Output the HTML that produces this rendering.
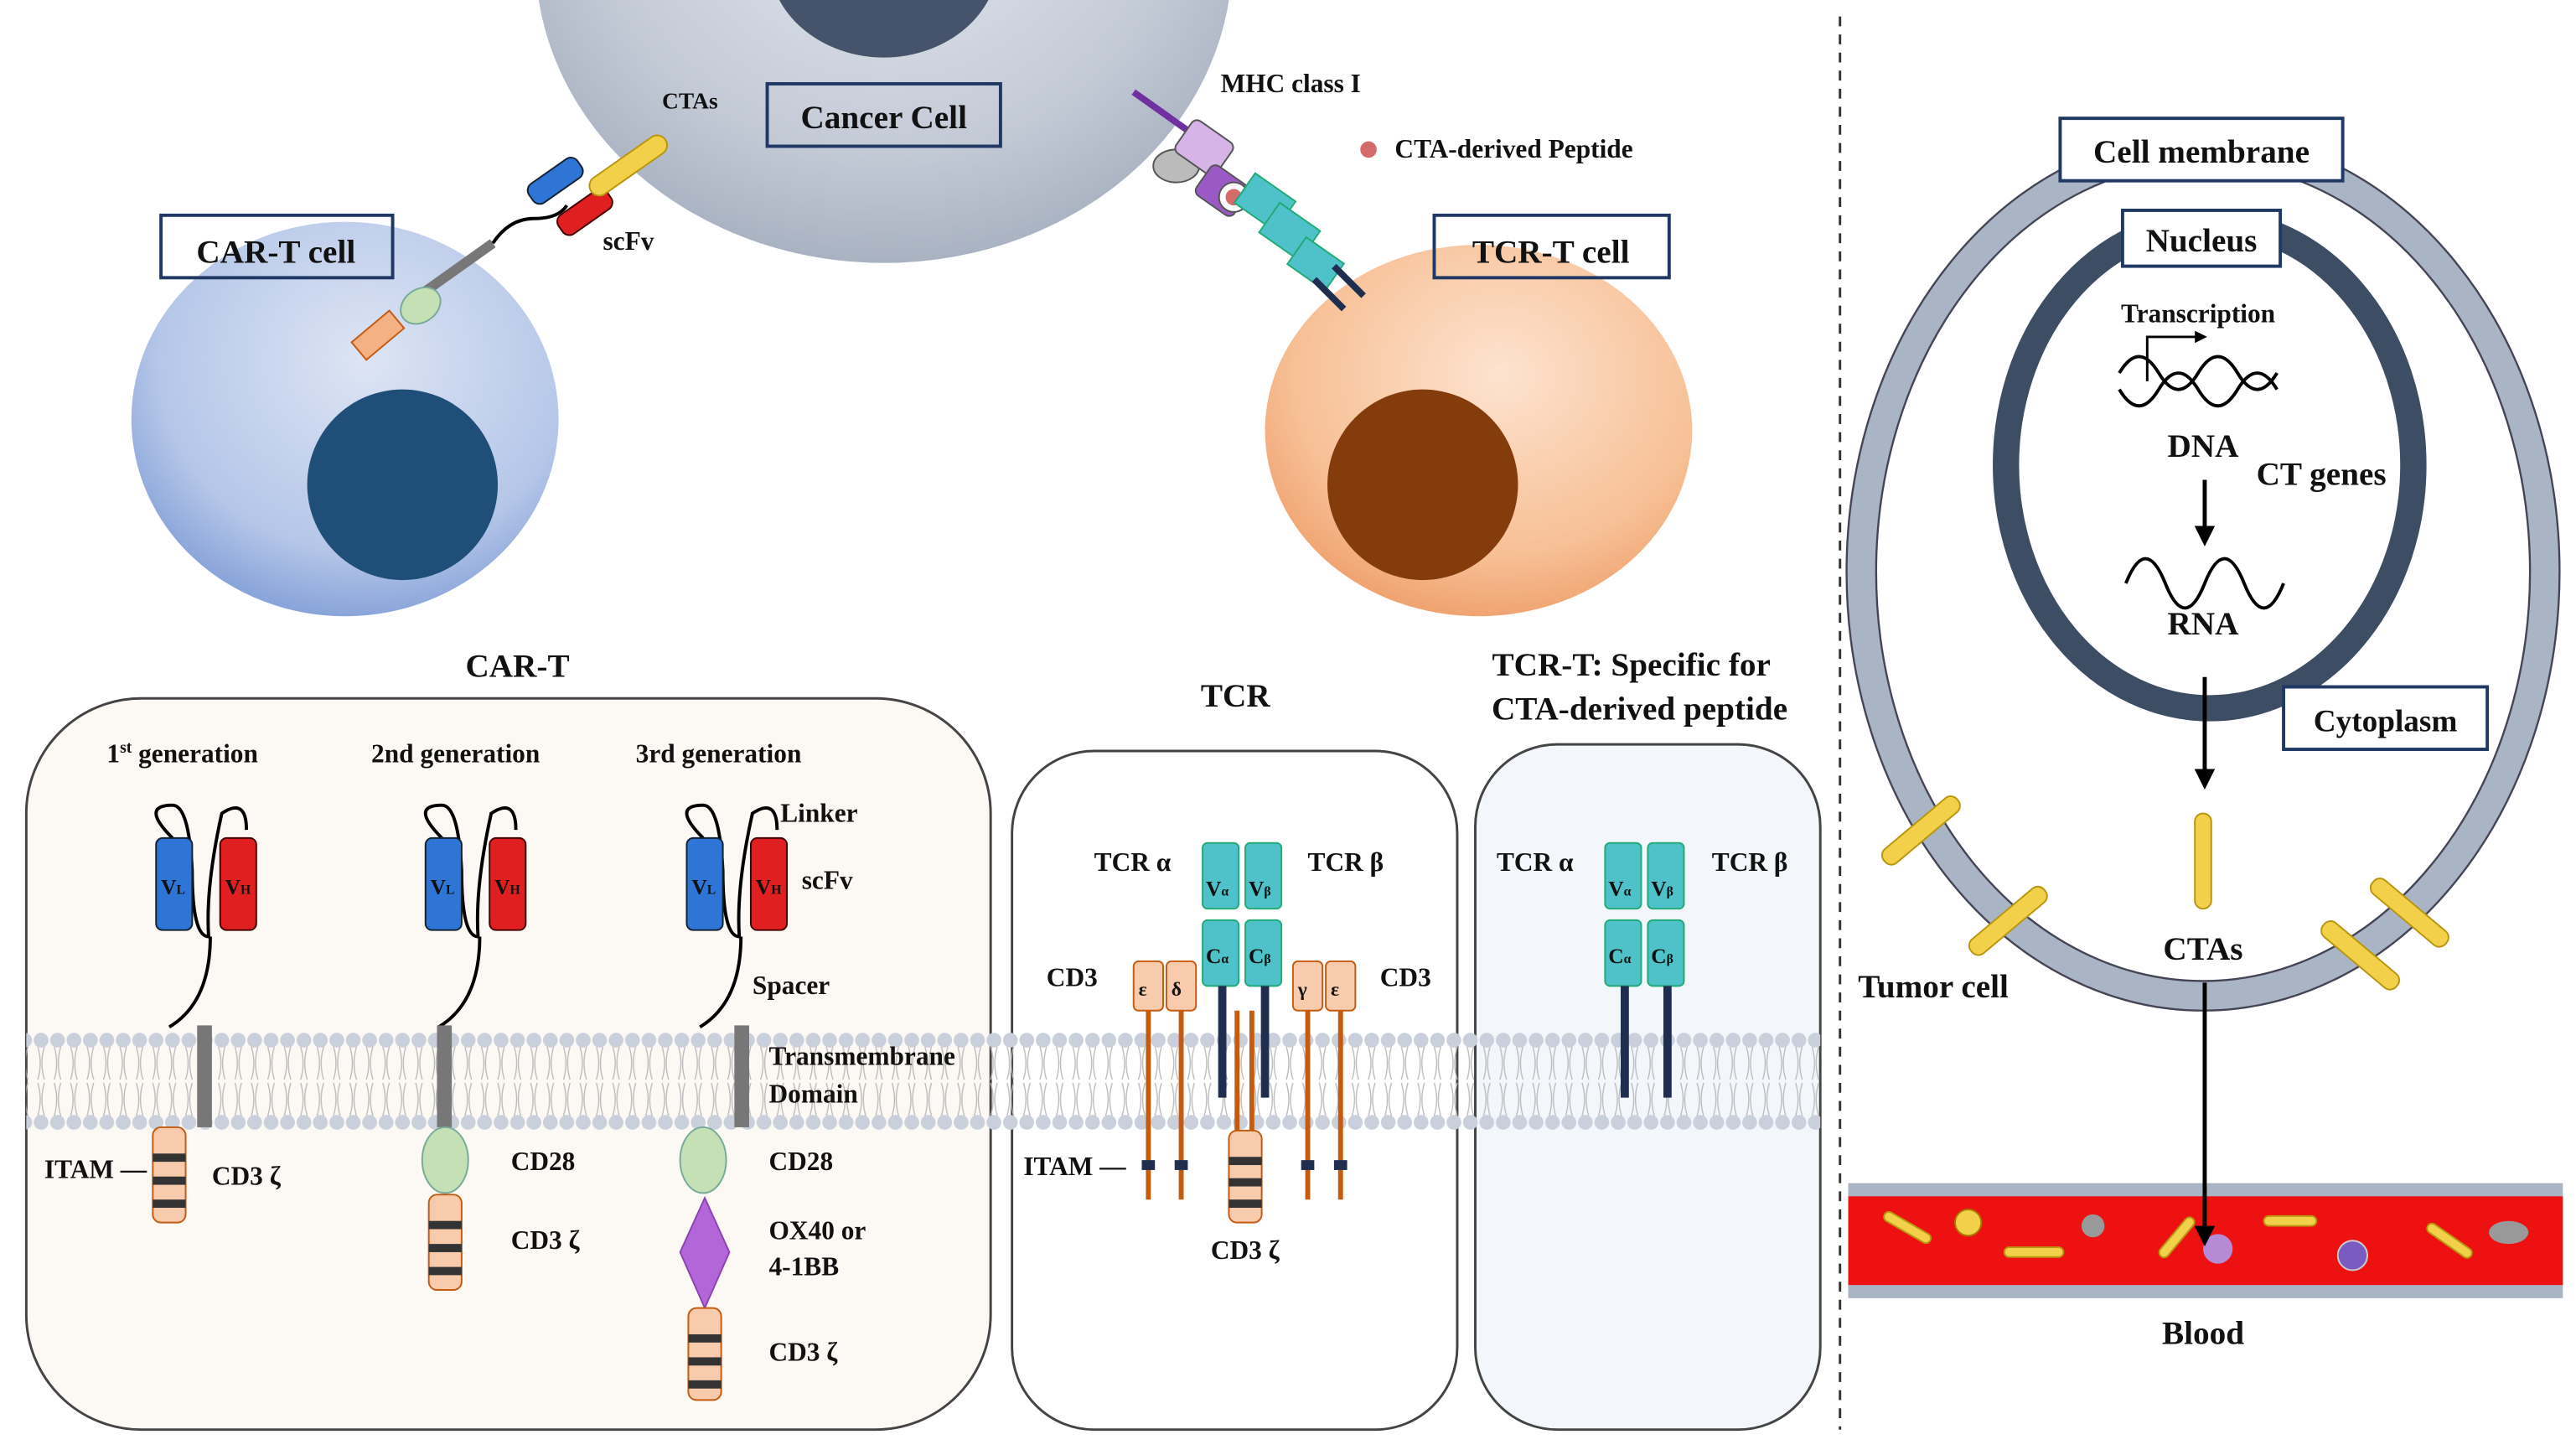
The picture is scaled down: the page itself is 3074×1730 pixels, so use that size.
<!DOCTYPE html>
<html><head><meta charset="utf-8"><style>
html,body{margin:0;padding:0;background:#fff;}
svg{display:block;}
text{font-family:"Liberation Serif",serif;font-weight:bold;fill:#111;}
</style></head><body>
<svg width="3074" height="1730" viewBox="0 0 1568 882.4" preserveAspectRatio="none" xmlns="http://www.w3.org/2000/svg">
<defs>
<radialGradient id="gc" cx="0.5" cy="0.4" r="0.6"><stop offset="0" stop-color="#e4e8ef"/><stop offset="0.7" stop-color="#c3cad6"/><stop offset="1" stop-color="#a9b2c1"/></radialGradient>
<radialGradient id="bc" cx="0.55" cy="0.35" r="0.65"><stop offset="0" stop-color="#dde5f4"/><stop offset="0.75" stop-color="#b5c6e8"/><stop offset="1" stop-color="#8aa5da"/></radialGradient>
<radialGradient id="oc" cx="0.55" cy="0.35" r="0.65"><stop offset="0" stop-color="#fde3cf"/><stop offset="0.75" stop-color="#f7bf95"/><stop offset="1" stop-color="#f0a472"/></radialGradient>
<pattern id="lip" x="0" y="628" width="10" height="62" patternUnits="userSpaceOnUse">
<circle cx="5" cy="5" r="4.5" fill="#c9d0dc"/><circle cx="5" cy="55" r="4.5" fill="#c9d0dc"/>
<path d="M3 9 q3 10 0 20 M7 9 q-3 10 0 20 M3 51 q3 -10 0 -20 M7 51 q-3 -10 0 -20" stroke="#bbb" stroke-width="0.7" fill="none"/>
</pattern>
<marker id="ar" viewBox="0 0 10 10" refX="8" refY="5" markerWidth="5" markerHeight="5" orient="auto"><path d="M0 0L10 5L0 10z" fill="#000"/></marker>
</defs>

<ellipse cx="538" cy="-25" rx="212" ry="185" fill="url(#gc)"/>
<ellipse cx="538" cy="-25" rx="70" ry="60" fill="#45546b"/>
<ellipse cx="210" cy="255" rx="130" ry="120" fill="url(#bc)"/>
<ellipse cx="245" cy="295" rx="58" ry="58" fill="#1f4e79"/>
<ellipse cx="900" cy="262" rx="130" ry="113" fill="url(#oc)"/>
<ellipse cx="866" cy="295" rx="58" ry="58" fill="#843c0c"/>

<rect x="98" y="131" width="141" height="38" fill="none" stroke="#1f3864" stroke-width="2"/>
<text x="168" y="160" font-size="20" text-anchor="middle">CAR-T cell</text>
<rect x="467" y="51" width="142" height="38" fill="none" stroke="#1f3864" stroke-width="2"/>
<text x="538" y="78" font-size="20" text-anchor="middle">Cancer Cell</text>
<rect x="873" y="131" width="143" height="38" fill="none" stroke="#1f3864" stroke-width="2"/>
<text x="944" y="160" font-size="20" text-anchor="middle">TCR-T cell</text>

<line x1="248" y1="185" x2="300" y2="148" stroke="#777" stroke-width="6"/>
<ellipse cx="256" cy="186" rx="13" ry="10" fill="#c5e0b4" stroke="#7a9" transform="rotate(-35 256 186)"/>
<rect x="215" y="197" width="30" height="14" fill="#f4b183" stroke="#c55a11" transform="rotate(-40 230 204)"/>
<path d="M300 148 q10 -15 25 -15 q15 0 20 -8" stroke="#000" fill="none" stroke-width="2"/>
<rect x="320" y="103" width="36" height="14" rx="5" fill="#2e75d6" stroke="#123" transform="rotate(-35 338 110)"/>
<rect x="338" y="122" width="36" height="14" rx="5" fill="#e02020" stroke="#400" transform="rotate(-35 356 129)"/>
<rect x="355" y="95" width="55" height="12" rx="6" fill="#f2d04a" stroke="#b8960f" transform="rotate(-35 382 101)"/>
<text x="403" y="66" font-size="14">CTAs</text>
<text x="367" y="152" font-size="16">scFv</text>

<line x1="690" y1="56" x2="728" y2="83" stroke="#7030a0" stroke-width="4"/>
<ellipse cx="716" cy="101" rx="14" ry="10" fill="#bbb" stroke="#555"/>
<rect x="718" y="78" width="30" height="24" rx="4" fill="#d6b4e8" stroke="#555" transform="rotate(35 733 90)"/>
<rect x="730" y="105" width="28" height="22" rx="4" fill="#9b59c5" stroke="#555" transform="rotate(35 744 116)"/>
<circle cx="751" cy="120" r="9" fill="#fff" stroke="#555"/><circle cx="751" cy="120" r="5" fill="#d46a6a"/>
<rect x="755" y="112" width="30" height="22" fill="#4fc1c8" stroke="#2a7" transform="rotate(35 770 123)"/>
<rect x="770" y="130" width="30" height="22" fill="#4fc1c8" stroke="#2a7" transform="rotate(35 785 141)"/>
<rect x="787" y="150" width="28" height="20" fill="#4fc1c8" stroke="#2a7" transform="rotate(35 800 160)"/>
<line x1="800" y1="170" x2="818" y2="188" stroke="#1f2d4f" stroke-width="4"/>
<line x1="812" y1="162" x2="830" y2="180" stroke="#1f2d4f" stroke-width="4"/>
<text x="743" y="56" font-size="16">MHC class I</text>
<circle cx="833" cy="91" r="5" fill="#d46a6a"/>
<text x="849" y="96" font-size="16">CTA-derived  Peptide</text>

<text x="315" y="412" font-size="20" text-anchor="middle">CAR-T</text>
<text x="752" y="430" font-size="20" text-anchor="middle">TCR</text>
<text x="993" y="411" font-size="20" text-anchor="middle">TCR-T: Specific for</text>
<text x="998" y="438" font-size="20" text-anchor="middle">CTA-derived peptide</text>

<rect x="16" y="425" width="587" height="445" rx="70" fill="#fcf8f4" stroke="#444" stroke-width="1.5"/>
<rect x="616" y="457" width="271" height="413" rx="50" fill="#fff" stroke="#444" stroke-width="1.5"/>
<rect x="898" y="453" width="210" height="417" rx="50" fill="#f3f7fb" stroke="#444" stroke-width="1.5"/>
<rect x="16" y="628" width="1092" height="62" fill="url(#lip)"/>

<text x="65" y="464" font-size="16">1<tspan font-size="10" dy="-6">st</tspan><tspan dy="6"> generation</tspan></text>
<text x="226" y="464" font-size="16">2nd  generation</text>
<text x="387" y="464" font-size="16">3rd  generation</text>

<g id="car">
<path d="M105 510 q-20 -20 0 -20 q10 0 12 40 q0 40 10 40 q-2 -30 8 -75 q15 -10 15 10 M128 570 q0 40 -25 55" stroke="#000" stroke-width="2" fill="none"/>
<rect x="95" y="510" width="22" height="56" rx="4" fill="#2e75d6" stroke="#123"/>
<rect x="134" y="510" width="22" height="56" rx="4" fill="#e02020" stroke="#400"/>
<text x="98" y="544" font-size="13">V<tspan font-size="8">L</tspan></text>
<text x="137" y="544" font-size="13">V<tspan font-size="8">H</tspan></text>
</g>
<use href="#car" x="164"/>
<use href="#car" x="323"/>
<rect x="120" y="624" width="9" height="62" fill="#777"/>
<rect x="266" y="624" width="9" height="62" fill="#777"/>
<rect x="447" y="624" width="9" height="62" fill="#777"/>
<rect x="93" y="686" width="20" height="58" rx="5" fill="#f8cbad" stroke="#c55a11"/>
<rect x="93" y="702" width="20" height="5" fill="#333"/><rect x="93" y="716" width="20" height="5" fill="#333"/><rect x="93" y="730" width="20" height="5" fill="#333"/>
<text x="27" y="717" font-size="16">ITAM —</text>
<text x="129" y="721" font-size="16">CD3 ζ</text>
<ellipse cx="271" cy="706" rx="14" ry="20" fill="#c5e0b4" stroke="#7a9"/>
<rect x="261" y="727" width="20" height="58" rx="5" fill="#f8cbad" stroke="#c55a11"/>
<rect x="261" y="743" width="20" height="5" fill="#333"/><rect x="261" y="757" width="20" height="5" fill="#333"/><rect x="261" y="771" width="20" height="5" fill="#333"/>
<text x="311" y="712" font-size="16">CD28</text>
<text x="311" y="760" font-size="16">CD3 ζ</text>
<ellipse cx="428" cy="706" rx="14" ry="20" fill="#c5e0b4" stroke="#7a9"/>
<path d="M429 729 L444 762 L429 796 L414 762z" fill="#b266d8" stroke="#8a44b0"/>
<rect x="419" y="796" width="20" height="56" rx="5" fill="#f8cbad" stroke="#c55a11"/>
<rect x="419" y="812" width="20" height="5" fill="#333"/><rect x="419" y="826" width="20" height="5" fill="#333"/><rect x="419" y="840" width="20" height="5" fill="#333"/>
<text x="475" y="500" font-size="16">Linker</text>
<text x="488" y="541" font-size="16">scFv</text>
<text x="458" y="605" font-size="16">Spacer</text>
<text x="468" y="648" font-size="16">Transmembrane</text>
<text x="468" y="671" font-size="16">Domain</text>
<text x="468" y="712" font-size="16">CD28</text>
<text x="468" y="754" font-size="16">OX40 or</text>
<text x="468" y="776" font-size="16">4-1BB</text>
<text x="468" y="828" font-size="16">CD3 ζ</text>

<g id="tcr">
<rect x="732" y="513" width="22" height="40" rx="3" fill="#4fc1c8" stroke="#2a7"/>
<rect x="758" y="513" width="22" height="40" rx="3" fill="#4fc1c8" stroke="#2a7"/>
<rect x="732" y="560" width="22" height="40" rx="3" fill="#4fc1c8" stroke="#2a7"/>
<rect x="758" y="560" width="22" height="40" rx="3" fill="#4fc1c8" stroke="#2a7"/>
<text x="734" y="545" font-size="13">V<tspan font-size="8">α</tspan></text>
<text x="760" y="545" font-size="13">V<tspan font-size="8">β</tspan></text>
<text x="734" y="586" font-size="13">C<tspan font-size="8">α</tspan></text>
<text x="760" y="586" font-size="13">C<tspan font-size="8">β</tspan></text>
<line x1="744" y1="600" x2="744" y2="668" stroke="#1f2d4f" stroke-width="5"/>
<line x1="770" y1="600" x2="770" y2="668" stroke="#1f2d4f" stroke-width="5"/>
</g>
<use href="#tcr" x="245"/>
<text x="666" y="530" font-size="16">TCR α</text><text x="796" y="530" font-size="16">TCR β</text>
<text x="911" y="530" font-size="16">TCR α</text><text x="1042" y="530" font-size="16">TCR β</text>
<rect x="690" y="585" width="18" height="30" rx="3" fill="#f8cbad" stroke="#c55a11"/>
<rect x="710" y="585" width="18" height="30" rx="3" fill="#f8cbad" stroke="#c55a11"/>
<rect x="787" y="585" width="18" height="30" rx="3" fill="#f8cbad" stroke="#c55a11"/>
<rect x="807" y="585" width="18" height="30" rx="3" fill="#f8cbad" stroke="#c55a11"/>
<text x="693" y="606" font-size="12">ε</text><text x="713" y="606" font-size="12">δ</text><text x="790" y="606" font-size="12">γ</text><text x="810" y="606" font-size="12">ε</text>
<g stroke="#c55a11" stroke-width="3">
<line x1="699" y1="615" x2="699" y2="730"/><line x1="719" y1="615" x2="719" y2="730"/>
<line x1="796" y1="615" x2="796" y2="730"/><line x1="816" y1="615" x2="816" y2="730"/>
<line x1="753" y1="615" x2="753" y2="690"/><line x1="762" y1="615" x2="762" y2="690"/>
</g>
<g fill="#1f2d4f"><rect x="695" y="706" width="8" height="6"/><rect x="715" y="706" width="8" height="6"/><rect x="792" y="706" width="8" height="6"/><rect x="812" y="706" width="8" height="6"/></g>
<rect x="748" y="688" width="20" height="56" rx="5" fill="#f8cbad" stroke="#c55a11"/>
<rect x="748" y="704" width="20" height="5" fill="#333"/><rect x="748" y="717" width="20" height="5" fill="#333"/><rect x="748" y="730" width="20" height="5" fill="#333"/>
<text x="637" y="600" font-size="16">CD3</text><text x="840" y="600" font-size="16">CD3</text>
<text x="623" y="715" font-size="16">ITAM —</text>
<text x="737" y="766" font-size="16">CD3 ζ</text>

<line x1="1120" y1="10" x2="1120" y2="870" stroke="#333" stroke-width="1.5" stroke-dasharray="6,5"/>

<ellipse cx="1341" cy="348" rx="208" ry="258" fill="none" stroke="#a9b4c4" stroke-width="18"/>
<ellipse cx="1341" cy="348" rx="217" ry="267" fill="none" stroke="#445" stroke-width="1.2"/>
<ellipse cx="1341" cy="348" rx="199" ry="249" fill="none" stroke="#445" stroke-width="1.2"/>
<ellipse cx="1345" cy="283" rx="124" ry="148" fill="none" stroke="#3d4d63" stroke-width="16"/>
<rect x="1254" y="72" width="172" height="38" fill="#fff" stroke="#1f3864" stroke-width="2"/>
<text x="1340" y="99" font-size="20" text-anchor="middle">Cell membrane</text>
<rect x="1292" y="128" width="96" height="34" fill="#fff" stroke="#1f3864" stroke-width="2"/>
<text x="1340" y="153" font-size="20" text-anchor="middle">Nucleus</text>
<rect x="1390" y="418" width="124" height="38" fill="#fff" stroke="#1f3864" stroke-width="2"/>
<text x="1452" y="445" font-size="19" text-anchor="middle">Cytoplasm</text>
<text x="1338" y="196" font-size="16" text-anchor="middle">Transcription</text>
<path d="M1307 232 V205 H1342" stroke="#000" stroke-width="1.5" fill="none" marker-end="url(#ar)"/>
<path d="M1290 230 q12 -20 24 0 t24 0 t24 0 t24 0 M1290 240 q12 20 24 0 t24 0 t24 0 t24 0" stroke="#000" stroke-width="2" fill="none" transform="translate(0,-3)"/>
<text x="1341" y="278" font-size="20" text-anchor="middle">DNA</text>
<text x="1413" y="295" font-size="20" text-anchor="middle">CT genes</text>
<line x1="1342" y1="292" x2="1342" y2="330" stroke="#000" stroke-width="2.5" marker-end="url(#ar)"/>
<path d="M1294 355 q12 -30 24 0 t24 0 t24 0 t24 0" stroke="#000" stroke-width="2" fill="none"/>
<text x="1341" y="386" font-size="20" text-anchor="middle">RNA</text>
<line x1="1342" y1="412" x2="1342" y2="478" stroke="#000" stroke-width="2.5" marker-end="url(#ar)"/>
<rect x="1336" y="495" width="10" height="58" rx="5" fill="#f2d04a" stroke="#b8960f"/>
<text x="1341" y="584" font-size="20" text-anchor="middle">CTAs</text>
<rect x="1140" y="500" width="58" height="11" rx="5" fill="#f2d04a" stroke="#b8960f" transform="rotate(-40 1169 505)"/>
<rect x="1193" y="555" width="58" height="11" rx="5" fill="#f2d04a" stroke="#b8960f" transform="rotate(-40 1222 560)"/>
<rect x="1438" y="550" width="58" height="11" rx="5" fill="#f2d04a" stroke="#b8960f" transform="rotate(40 1467 555)"/>
<rect x="1408" y="576" width="58" height="11" rx="5" fill="#f2d04a" stroke="#b8960f" transform="rotate(40 1437 581)"/>
<text x="1131" y="607" font-size="20">Tumor cell</text>

<rect x="1125" y="720" width="435" height="70" fill="#a9b4c4"/>
<rect x="1125" y="728" width="435" height="54" fill="#ee1111"/>
<g fill="#f2d04a" stroke="#b8960f">
<rect x="1145" y="744" width="32" height="6" rx="3" transform="rotate(30 1161 747)"/>
<rect x="1220" y="759" width="36" height="6" rx="3"/>
<rect x="1378" y="740" width="32" height="6" rx="3"/>
<rect x="1475" y="752" width="32" height="6" rx="3" transform="rotate(35 1491 755)"/>
<rect x="1310" y="750" width="30" height="6" rx="3" transform="rotate(-50 1325 753)"/>
</g>
<circle cx="1198" cy="744" r="8" fill="#f2d04a" stroke="#a70"/>
<circle cx="1274" cy="746" r="7" fill="#999"/>
<circle cx="1350" cy="760" r="9" fill="#b58bd6"/>
<circle cx="1432" cy="764" r="9" fill="#7a5cc0" stroke="#ccc"/>
<ellipse cx="1527" cy="750" rx="12" ry="7" fill="#999"/>
<line x1="1342" y1="598" x2="1342" y2="756" stroke="#000" stroke-width="2.5" marker-end="url(#ar)"/>
<text x="1341" y="818" font-size="20" text-anchor="middle">Blood</text>
</svg>
</body></html>
